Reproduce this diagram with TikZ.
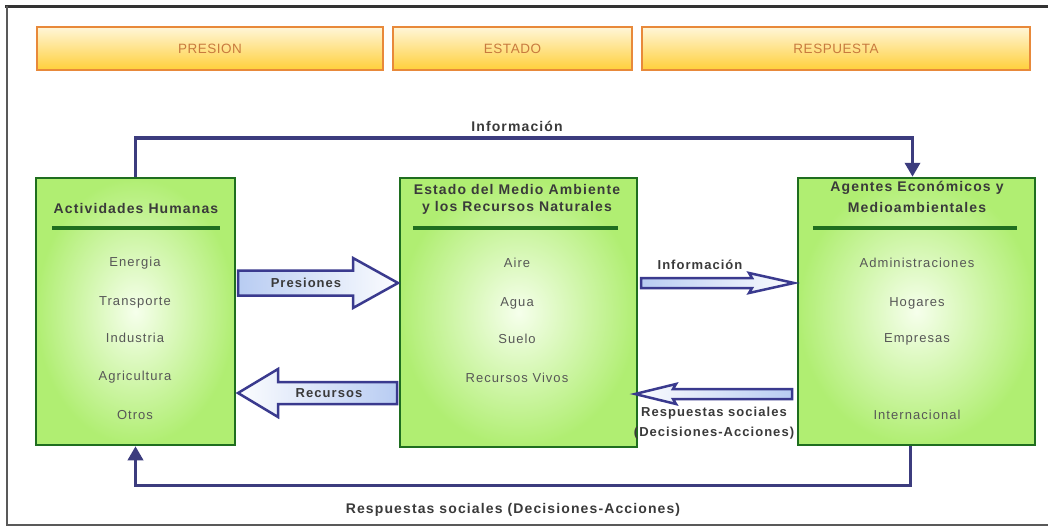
\documentclass[tikz,border=0pt]{standalone}
\usepackage{fontspec}
\setmainfont{Liberation Sans}
\newfontfamily\spfont[LetterSpace=8]{Liberation Sans}
\newfontfamily\hdfont[LetterSpace=4]{Liberation Sans}
\usetikzlibrary{arrows.meta,calc}
\definecolor{hdrline}{HTML}{E8893A}
\definecolor{hdrtop}{HTML}{FFF6D8}
\definecolor{hdrbot}{HTML}{FFCF3A}
\definecolor{hdrtext}{HTML}{C87A3E}
\definecolor{gline}{HTML}{1F6E1F}
\definecolor{gin}{HTML}{F6FFEC}
\definecolor{gout}{HTML}{B0EE72}
\definecolor{aline}{HTML}{3A3A8E}
\definecolor{afill}{HTML}{B8CCF2}
\definecolor{connc}{HTML}{3C3C7E}
\definecolor{txt}{HTML}{3A3A3A}
\tikzset{
  hdr/.style={draw=hdrline, line width=2pt, top color=hdrtop, bottom color=hdrbot,
    minimum height=43pt, inner sep=0pt, text=hdrtext, font=\hdfont\fontsize{13.5}{15}\selectfont},
  gbox/.style={draw=gline, line width=2.5pt, inner color=gin, outer color=gout, inner sep=0pt},
  ttl/.style={text=txt, font=\spfont\bfseries\fontsize{14}{16}\selectfont, align=center, inner sep=0pt},
  itm/.style={text=txt!85, font=\spfont\fontsize{13}{15}\selectfont, inner sep=0pt},
  lbl/.style={text=txt, font=\spfont\bfseries\fontsize{13}{15}\selectfont, align=center, inner sep=0pt},
  biglbl/.style={lbl, font=\spfont\bfseries\fontsize{14}{16}\selectfont},
  uline/.style={draw=gline, line width=3.5pt},
  barrow/.style={draw=aline, line width=2.5pt, line join=miter, left color=afill, right color=white!95!afill},
  barrowr/.style={draw=aline, line width=2.5pt, line join=miter, left color=white!95!afill, right color=afill},
  conn/.style={draw=connc, line width=3.5pt, -{Triangle[length=14pt,width=15pt]}},
}
\begin{document}
\begin{tikzpicture}[x=1pt,y=-1pt]
\useasboundingbox (0,0) rectangle (1048,527);
\fill[white] (0,0) rectangle (1048,527);
% frame
\draw[line width=3pt, black!80] (5,7) -- (1048,7);
\draw[line width=1.6pt, black!65] (7,6) -- (7,525) -- (1048,525);
% headers
\node[hdr, minimum width=346pt] (hp) at (210,48.5) {PRESION};
\node[hdr, minimum width=239pt] (he) at (512.5,48.5) {ESTADO};
\node[hdr, minimum width=388pt] (hr) at (836,48.5) {RESPUESTA};
% boxes
\node[gbox, minimum width=199pt, minimum height=267pt] (L) at (135.5,311.5) {};
\node[gbox, minimum width=237pt, minimum height=269pt] (M) at (518.5,312.5) {};
\node[gbox, minimum width=237pt, minimum height=267pt] (R) at (916.5,311.5) {};
% titles
\node[ttl] (Lt) at (136,208) {Actividades Humanas};
\node[ttl] (Mt1) at (517,189) {Estado del Medio Ambiente};
\node[ttl] (Mt2) at (517,208) {y los Recursos Naturales};
\node[ttl] (Rt1) at (917,188) {Agentes Económicos y};
\node[ttl] (Rt2) at (917,207) {Medioambientales};
\draw[uline] (52,228) -- (220,228);
\draw[uline] (413,228) -- (618,228);
\draw[uline] (813,228) -- (1017,228);
% items
\node[itm] (l1) at (135,263) {Energia};
\node[itm] (l2) at (135,302) {Transporte};
\node[itm] (l3) at (135,338) {Industria};
\node[itm] (l4) at (135,377) {Agricultura};
\node[itm] (l5) at (135,415) {Otros};
\node[itm] (m1) at (517,263) {Aire};
\node[itm] (m2) at (517,303) {Agua};
\node[itm] (m3) at (517,339) {Suelo};
\node[itm] (m4) at (517,378) {Recursos Vivos};
\node[itm] (r1) at (917,263) {Administraciones};
\node[itm] (r2) at (917,303) {Hogares};
\node[itm] (r3) at (917,339) {Empresas};
\node[itm] (r4) at (917,415) {Internacional};
% block arrows
\draw[barrow] (238,270.5) -- (353,270.5) -- (353,258) -- (398,283) -- (353,308) -- (353,295.5) -- (238,295.5) -- cycle;
\node[lbl] (pres) at (306,283) {Presiones};
\draw[barrowr] (397,382) -- (278,382) -- (278,369) -- (238,393) -- (278,417) -- (278,404) -- (397,404) -- cycle;
\node[lbl] (recu) at (329,393) {Recursos};
\draw[barrow] (641,278) -- (752,278) -- (749,273) -- (794,283) -- (749,293) -- (752,288) -- (641,288) -- cycle;
\node[lbl] (info2) at (700,265) {Información};
\draw[barrowr] (792,389) -- (673,389) -- (676,384) -- (635,394) -- (676,404) -- (673,399) -- (792,399) -- cycle;
\node[lbl] (resp1) at (714,413) {Respuestas sociales};
\node[lbl] (resp2) at (714,433) {(Decisiones-Acciones)};
% connectors
\draw[conn] (L.north) -- ++(0,-39) -| ([xshift=-4pt]R.north);
\node[biglbl] (info1) at (517,126) {Información};
\draw[conn] ([xshift=-6pt]R.south) -- ++(0,39) -| (L.south);
\node[biglbl] (resp3) at (513,510) {Respuestas sociales (Decisiones-Acciones)};
\end{tikzpicture}
\end{document}
